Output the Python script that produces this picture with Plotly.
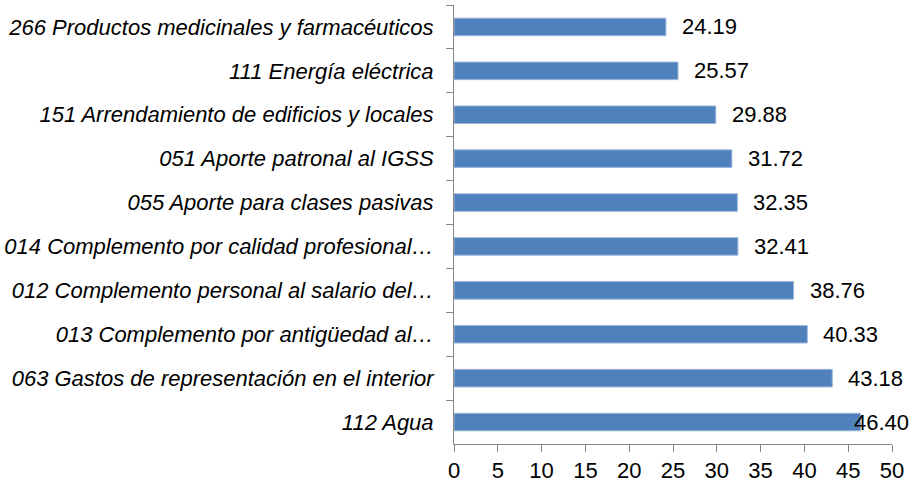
import plotly.graph_objects as go

categories = [
    "266 Productos medicinales y farmacéuticos",
    "111 Energía eléctrica",
    "151 Arrendamiento de edificios y locales",
    "051 Aporte patronal al IGSS",
    "055 Aporte para clases pasivas",
    "014 Complemento por calidad profesional…",
    "012 Complemento personal al salario del…",
    "013 Complemento por antigüedad al…",
    "063 Gastos de representación en el interior",
    "112 Agua",
]
values = [24.19, 25.57, 29.88, 31.72, 32.35, 32.41, 38.76, 40.33, 43.18, 46.40]
x_ticks = [0, 5, 10, 15, 20, 25, 30, 35, 40, 45, 50]
x_max = 50

FONT = "Liberation Sans, Arial, sans-serif"
BAR = "#4F81BD"
AXIS = "#868686"
SIZE = 22

fig = go.Figure()
fig.add_trace(go.Bar(
    x=values, y=categories, orientation="h",
    marker=dict(color=BAR, line=dict(color="#9DB6D9", width=1)),
    hoverinfo="skip",
))

annotations = []
for c, v in zip(categories, values):
    if v > 45:
        annotations.append(dict(
            x=x_max, y=c, xref="x", yref="y", text=f"{v:.2f}",
            showarrow=False, xanchor="right", xshift=19,
            font=dict(family=FONT, size=SIZE, color="#000000"),
        ))
    else:
        annotations.append(dict(
            x=v, y=c, xref="x", yref="y", text=f"{v:.2f}",
            showarrow=False, xanchor="left", xshift=14,
            font=dict(family=FONT, size=SIZE, color="#000000"),
        ))

fig.update_layout(
    width=915, height=488,
    margin=dict(l=454, r=23, t=5, b=44),
    paper_bgcolor="white", plot_bgcolor="white",
    showlegend=False,
    bargap=0.60,
    font=dict(family=FONT, size=SIZE, color="#000000"),
    annotations=annotations,
    xaxis=dict(
        range=[0, x_max], tickvals=x_ticks, ticktext=[str(t) for t in x_ticks],
        showgrid=False, zeroline=False,
        showline=True, linecolor=AXIS, linewidth=1,
        ticks="outside", ticklen=7, tickcolor=AXIS,
        tickfont=dict(family=FONT, size=SIZE, color="#000000"),
    ),
    yaxis=dict(
        autorange="reversed", showgrid=False, zeroline=False,
        showline=True, linecolor=AXIS, linewidth=1,
        ticks="outside", ticklen=7, tickcolor=AXIS, tickson="boundaries",
        tickfont=dict(family=FONT, size=SIZE, color="#000000", style="italic"),
        ticklabelstandoff=15,
    ),
)

fig.write_html(
    "out.html",
    config={"displayModeBar": False},
    post_script="document.body.style.margin='0';",
)
